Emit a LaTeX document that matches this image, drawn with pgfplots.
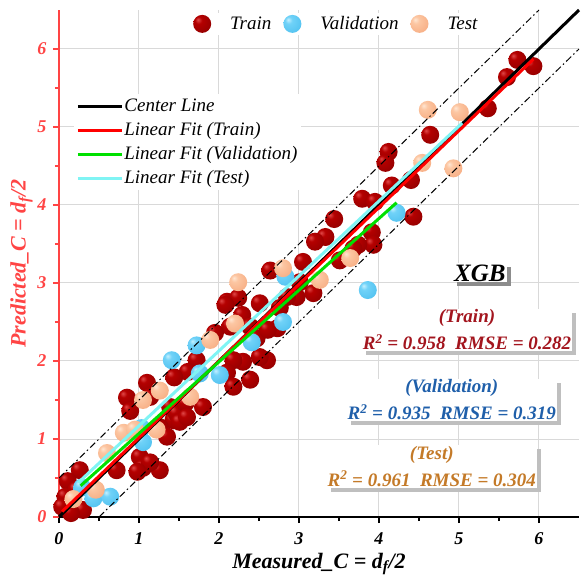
\documentclass[border=0pt]{standalone}
\usepackage{fontspec}
\setmainfont{Liberation Serif}
\usepackage{pgfplots}
\pgfplotsset{compat=1.18}
\usetikzlibrary{shadows}
\definecolor{ycol}{HTML}{FF4444}
\definecolor{fitg}{HTML}{00E000}
\definecolor{fitc}{HTML}{80F4F4}
\definecolor{ttrain}{HTML}{A3151E}
\definecolor{tval}{HTML}{1F5FAA}
\definecolor{ttest}{HTML}{C47A28}
\definecolor{tr0}{HTML}{E04848}\definecolor{tr1}{HTML}{B40000}\definecolor{tr2}{HTML}{940000}\definecolor{tr3}{HTML}{600000}
\definecolor{va0}{HTML}{C4F0FF}\definecolor{va1}{HTML}{70D2F8}\definecolor{va2}{HTML}{52C2F0}\definecolor{va3}{HTML}{38A0D0}
\definecolor{te0}{HTML}{FFE6D2}\definecolor{te1}{HTML}{FCC6A2}\definecolor{te2}{HTML}{F7AE84}\definecolor{te3}{HTML}{E08E62}
\pgfdeclareradialshading{trainshade}{\pgfpoint{-12bp}{12bp}}{color(0bp)=(tr0); color(10bp)=(tr1); color(35bp)=(tr2); color(70bp)=(tr3)}
\pgfdeclareradialshading{valshade}{\pgfpoint{-12bp}{12bp}}{color(0bp)=(va0); color(10bp)=(va1); color(35bp)=(va2); color(70bp)=(va3)}
\pgfdeclareradialshading{testshade}{\pgfpoint{-12bp}{12bp}}{color(0bp)=(te0); color(10bp)=(te1); color(35bp)=(te2); color(70bp)=(te3)}
\pgfdeclareplotmark{trainball}{\pgfpathcircle{\pgfpointorigin}{\pgfplotmarksize}\pgfshadepath{trainshade}{0}\pgfusepath{}}
\pgfdeclareplotmark{valball}{\pgfpathcircle{\pgfpointorigin}{\pgfplotmarksize}\pgfshadepath{valshade}{0}\pgfusepath{}}
\pgfdeclareplotmark{testball}{\pgfpathcircle{\pgfpointorigin}{\pgfplotmarksize}\pgfshadepath{testshade}{0}\pgfusepath{}}
\pgfplotsset{ballleg/.style={legend image code/.code={\pgfpathrectangle{\pgfpoint{0pt}{-1pt}}{\pgfpoint{35pt}{2pt}}\pgfusepath{}\draw[##1, mark repeat=2, mark phase=2] plot coordinates {(0pt,0pt) (9pt,0pt) (18pt,0pt)};}}}
\begin{document}
\begin{tikzpicture}
\useasboundingbox (-59pt,-64pt) rectangle (522pt,517pt);
\begin{axis}[
  at={(0pt,0pt)}, anchor=south west, scale only axis,
  width=520pt, height=507pt,
  xmin=0, xmax=6.5, ymin=0, ymax=6.5,
  axis x line*=bottom, axis y line*=left,
  xtick={0,1,...,6}, ytick={0,1,...,6}, minor tick num=1,
  grid=major, major grid style={gray!30, line width=1pt},
  tick align=outside, major tick length=6pt, minor tick length=4pt,
  x axis line style={black, line width=1.8pt, -},
  y axis line style={ycol, line width=1.8pt, -},
  x tick style={black, line width=1.5pt},
  y tick style={ycol, line width=1.5pt},
  /pgf/number format/assume math mode=true,
  ticklabel style={font=\fontsize{18}{18}\selectfont\bfseries\itshape},
  xticklabel style={yshift=-6pt},
  yticklabel style={text=ycol, xshift=-3pt},
  xlabel={Measured\_C = d\textsubscript{f}/2},
  ylabel={Predicted\_C = d\textsubscript{f}/2},
  xlabel style={font=\fontsize{22}{22}\selectfont\bfseries\itshape, at={(axis description cs:0.5,-0.093)}, anchor=center},
  ylabel style={font=\fontsize{22}{22}\selectfont\bfseries\itshape, text=ycol, at={(axis description cs:-0.072,0.5)}, anchor=center},
  legend columns=3,
  legend style={at={(axis cs:1.65,6.47)}, anchor=north west, draw=none, fill=white,
    font=\fontsize{19}{19}\selectfont\itshape, inner sep=2pt,
    /tikz/every even column/.append style={column sep=10pt}},
]
\addplot[only marks, mark=trainball, mark size=9pt, ballleg] table {
x y
5.73 5.86
5.93 5.78
5.60 5.64
5.36 5.24
4.64 4.90
4.12 4.68
4.08 4.54
4.40 4.32
4.16 4.25
3.79 4.08
3.95 4.04
3.44 3.82
3.33 3.59
3.91 3.65
3.93 3.49
3.74 3.49
3.68 3.44
4.43 3.85
3.05 3.27
3.51 3.29
2.64 3.16
3.20 3.53
2.97 2.82
3.18 2.87
3.01 3.01
2.85 2.82
2.10 2.76
2.24 2.81
2.51 2.74
2.76 2.68
2.29 2.59
2.73 2.42
2.39 2.44
2.47 2.29
2.61 2.40
2.14 2.44
1.95 2.36
2.08 2.72
2.60 2.01
2.51 2.05
2.30 1.99
2.18 2.01
2.10 1.85
2.39 1.76
2.18 1.67
1.72 2.01
1.61 1.86
1.44 1.79
1.10 1.72
1.14 1.54
1.39 1.41
1.43 1.24
1.47 1.33
1.58 1.46
1.26 1.15
1.51 1.22
1.60 1.28
1.35 1.03
1.80 1.41
0.85 1.53
0.89 1.36
1.01 0.77
1.05 0.63
1.26 0.60
1.14 0.70
0.98 0.58
0.72 0.60
0.26 0.60
0.11 0.46
0.08 0.26
0.04 0.13
0.22 0.35
0.30 0.09
0.15 0.05
};
\addlegendentry{Train}
\addplot[only marks, mark=valball, mark size=9pt, ballleg] table {
x y
4.22 3.90
3.86 2.91
2.83 3.08
2.80 2.50
2.41 2.24
1.72 2.20
1.41 2.01
1.76 1.84
2.01 1.82
1.05 0.96
1.03 1.14
0.29 0.38
0.43 0.24
0.64 0.26
};
\addlegendentry{Validation}
\addplot[only marks, mark=testball, mark size=9pt, ballleg] table {
x y
4.61 5.22
5.01 5.19
4.54 4.54
4.93 4.47
3.64 3.32
3.26 3.04
2.24 3.01
2.80 3.19
2.20 2.48
1.89 2.27
1.26 1.62
1.05 1.50
1.64 1.54
0.81 1.08
0.95 1.12
1.22 1.12
0.60 0.82
0.46 0.35
0.18 0.23
};
\addlegendentry{Test}
\end{axis}
\begin{axis}[
  at={(0pt,0pt)}, anchor=south west, scale only axis,
  width=520pt, height=507pt,
  xmin=0, xmax=6.5, ymin=0, ymax=6.5,
  hide axis, clip=false,
  legend image code/.code={\draw[#1] (0pt,0pt) -- (44pt,0pt);},
  legend style={at={(axis cs:0.19,5.42)}, anchor=north west, draw=none, fill=white,
    font=\fontsize{19}{19}\selectfont\itshape, inner sep=2pt, row sep=4pt,
    nodes={inner sep=1pt, text height=14pt, text depth=4pt}},
  legend cell align=left,
]
\addplot[forget plot, black, line width=1pt, dash pattern=on 7pt off 3pt on 1.5pt off 3pt] coordinates {(0,0.5) (6,6.5)};
\addplot[forget plot, black, line width=1pt, dash pattern=on 7pt off 3pt on 1.5pt off 3pt] coordinates {(0.5,0) (6.5,6)};
\addplot[black, line width=3pt] coordinates {(0,0) (6.5,6.5)};
\addlegendentry{Center Line}
\addplot[red, line width=3pt] coordinates {(0.04,0.07) (5.93,5.87)};
\addlegendentry{Linear Fit (Train)}
\addplot[fitg, line width=3pt] coordinates {(0.27,0.40) (4.22,4.03)};
\addlegendentry{Linear Fit (Validation)}
\addplot[fitc, line width=3pt] coordinates {(0.24,0.44) (5.04,5.05)};
\addlegendentry{Linear Fit (Test)}
\node[fill=white, inner sep=1pt, drop shadow={shadow xshift=4pt, shadow yshift=-4pt, fill=black!45, opacity=1},
  font=\fontsize{25}{25}\selectfont\bfseries\itshape] at (axis cs:5.26,3.13) {XGB};
\node[fill=white, inner sep=1pt, align=center, text=ttrain, drop shadow={shadow xshift=4pt, shadow yshift=-4pt, fill=black!25, opacity=1},
  font=\fontsize{19}{27}\selectfont\bfseries\itshape] at (axis cs:5.10,2.40) {(Train)\\R\textsuperscript{2} = 0.958\hspace{0.5em}RMSE = 0.282};
\node[fill=white, inner sep=1pt, align=center, text=tval, drop shadow={shadow xshift=4pt, shadow yshift=-4pt, fill=black!25, opacity=1},
  font=\fontsize{19}{27}\selectfont\bfseries\itshape] at (axis cs:4.91,1.50) {(Validation)\\R\textsuperscript{2} = 0.935\hspace{0.5em}RMSE = 0.319};
\node[fill=white, inner sep=1pt, align=center, text=ttest, drop shadow={shadow xshift=4pt, shadow yshift=-4pt, fill=black!25, opacity=1},
  font=\fontsize{19}{27}\selectfont\bfseries\itshape] at (axis cs:4.66,0.65) {(Test)\\R\textsuperscript{2} = 0.961\hspace{0.5em}RMSE = 0.304};
\end{axis}
\end{tikzpicture}
\end{document}
